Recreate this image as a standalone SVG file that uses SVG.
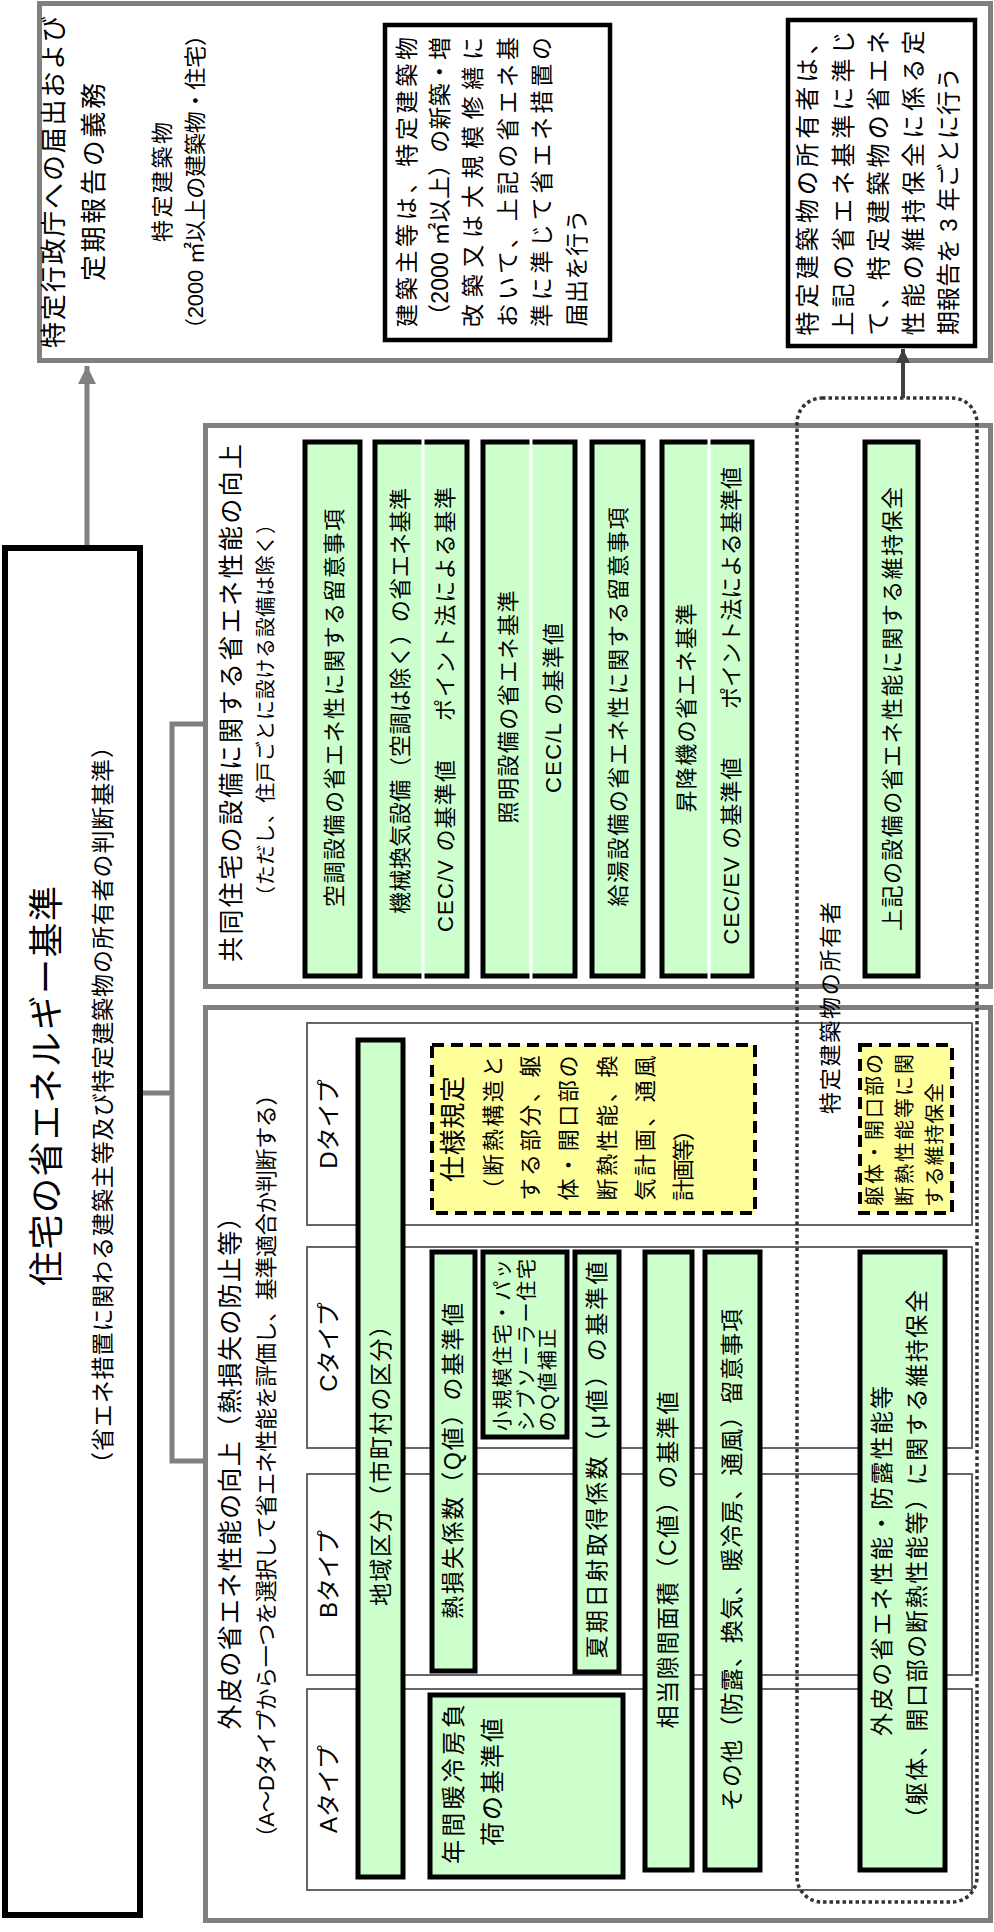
<svg xmlns="http://www.w3.org/2000/svg" width="994" height="1932" viewBox="0 0 994 1932">
<style>
.t{font-family:"Liberation Sans","Noto Sans CJK JP",sans-serif;fill:#000;text-anchor:middle;dominant-baseline:central}
.sec{fill:#fff;stroke:#808080;stroke-width:5}
.box{fill:#fff;stroke:#000;stroke-width:4.5}
.g{fill:#ccffcc;stroke:#000;stroke-width:5}
.y{fill:#ffff99;stroke:#000;stroke-width:4;stroke-dasharray:12 7}
.typ{fill:#fff;stroke:#555;stroke-width:1.8}
.div{stroke:#fff;stroke-width:3}
.con{fill:none;stroke:#808080;stroke-width:5}
</style>
<defs>
<marker id="ag" viewBox="0 0 10 10" refX="10" refY="5" markerWidth="3.6" markerHeight="3.6" orient="auto" markerUnits="strokeWidth"><path d="M0,0 L10,5 L0,10 z" fill="#808080"/></marker>
<marker id="ad" viewBox="0 0 10 10" refX="10" refY="5" markerWidth="3.6" markerHeight="3.6" orient="auto" markerUnits="strokeWidth"><path d="M0,0 L10,5 L0,10 z" fill="#404040"/></marker>
</defs>

<g id="notify">
<rect class="sec" x="39.5" y="3.5" width="951" height="357"/>
<text class="t" font-size="26" textLength="332" transform="translate(54,182) rotate(-90)">特定行政庁への届出および</text>
<text class="t" font-size="26" textLength="198" transform="translate(94,182) rotate(-90)">定期報告の義務</text>
<text class="t" font-size="22" textLength="120" transform="translate(162,182) rotate(-90)">特定建築物</text>
<text class="t" font-size="22" textLength="316" transform="translate(195,182) rotate(-90)">（2000 ㎡以上の建築物・住宅）</text>
</g>

<g id="builder-box">
<rect class="box" x="385" y="25" width="225" height="315"/>
<text class="t" font-size="23" textLength="290" transform="translate(407,182) rotate(-90)">建築主等は、特定建築物</text>
<text class="t" font-size="23" textLength="290" transform="translate(440,182) rotate(-90)">（2000 ㎡以上）の新築・増</text>
<text class="t" font-size="23" textLength="290" transform="translate(473,182) rotate(-90)">改築又は大規模修繕に</text>
<text class="t" font-size="23" textLength="290" transform="translate(508,182) rotate(-90)">おいて、上記の省エネ基</text>
<text class="t" font-size="23" textLength="290" transform="translate(542,182) rotate(-90)">準に準じて省エネ措置の</text>
<text class="t" font-size="23" textLength="117" transform="translate(577,268) rotate(-90)">届出を行う</text>
</g>

<g id="owner-box">
<rect class="box" x="788" y="20" width="187" height="326"/>
<text class="t" font-size="24" textLength="305" transform="translate(807,183) rotate(-90)">特定建築物の所有者は、</text>
<text class="t" font-size="24" textLength="305" transform="translate(843,183) rotate(-90)">上記の省エネ基準に準じ</text>
<text class="t" font-size="24" textLength="305" transform="translate(878,183) rotate(-90)">て、特定建築物の省エネ</text>
<text class="t" font-size="24" textLength="305" transform="translate(913,183) rotate(-90)">性能の維持保全に係る定</text>
<text class="t" font-size="24" textLength="268" transform="translate(948,201) rotate(-90)">期報告を 3 年ごとに行う</text>
</g>

<g id="main">
<rect x="5" y="548" width="135" height="1367" fill="#fff" stroke="#000" stroke-width="6"/>
<text class="t" font-size="35" textLength="400" transform="translate(46,1086) rotate(-90)">住宅の省エネルギー基準</text>
<text class="t" font-size="23" textLength="740" transform="translate(103,1105) rotate(-90)">（省エネ措置に関わる建築主等及び特定建築物の所有者の判断基準）</text>
</g>

<g id="equipment">
<rect class="sec" x="205.5" y="425.5" width="785" height="561"/>
<text class="t" font-size="25" textLength="518" transform="translate(231,703) rotate(-90)">共同住宅の設備に関する省エネ性能の向上</text>
<text class="t" font-size="20" textLength="392" transform="translate(266,710) rotate(-90)">（ただし、住戸ごとに設ける設備は除く）</text>
<rect class="g" x="305" y="442" width="55" height="534"/>
<text class="t" font-size="22" textLength="398" transform="translate(334,708) rotate(-90)">空調設備の省エネ性に関する留意事項</text>
<rect class="g" x="375" y="442" width="92" height="534"/>
<line class="div" x1="423" y1="438" x2="423" y2="980"/>
<text class="t" font-size="22" textLength="426" transform="translate(400,701) rotate(-90)">機械換気設備（空調は除く）の省エネ基準</text>
<text class="t" font-size="22" textLength="172" transform="translate(445,846) rotate(-90)">CEC/V の基準値</text>
<text class="t" font-size="22" textLength="234" transform="translate(445,604) rotate(-90)">ポイント法による基準</text>
<rect class="g" x="483" y="442" width="92" height="534"/>
<line class="div" x1="531" y1="438" x2="531" y2="980"/>
<text class="t" font-size="22" textLength="233" transform="translate(508,707) rotate(-90)">照明設備の省エネ基準</text>
<text class="t" font-size="22" textLength="170" transform="translate(553,708) rotate(-90)">CEC/L の基準値</text>
<rect class="g" x="592" y="442" width="51" height="534"/>
<text class="t" font-size="22" textLength="399" transform="translate(618,707) rotate(-90)">給湯設備の省エネ性に関する留意事項</text>
<rect class="g" x="662" y="442" width="90" height="534"/>
<line class="div" x1="709" y1="438" x2="709" y2="980"/>
<text class="t" font-size="22" textLength="209" transform="translate(686,708) rotate(-90)">昇降機の省エネ基準</text>
<text class="t" font-size="22" textLength="187" transform="translate(731,851) rotate(-90)">CEC/EV の基準値</text>
<text class="t" font-size="22" textLength="242" transform="translate(731,588) rotate(-90)">ポイント法による基準値</text>
<rect class="g" x="865" y="442" width="53" height="534"/>
<text class="t" font-size="22" textLength="444" transform="translate(892,709) rotate(-90)">上記の設備の省エネ性能に関する維持保全</text>
</g>

<g id="envelope">
<rect class="sec" x="205.5" y="1007.5" width="785" height="913"/>
<text class="t" font-size="25" textLength="525" transform="translate(230,1467) rotate(-90)">外皮の省エネ性能の向上（熱損失の防止等）</text>
<text class="t" font-size="22" textLength="765" transform="translate(266,1466) rotate(-90)">（A～Dタイプから一つを選択して省エネ性能を評価し、基準適合か判断する）</text>
<rect class="typ" x="307" y="1023" width="665" height="202"/>
<rect class="typ" x="307" y="1247" width="665" height="201"/>
<rect class="typ" x="307" y="1474" width="665" height="201"/>
<rect class="typ" x="307" y="1689" width="665" height="201"/>
<text class="t" font-size="24" transform="translate(328,1124) rotate(-90)">Dタイプ</text>
<text class="t" font-size="24" transform="translate(328,1347) rotate(-90)">Cタイプ</text>
<text class="t" font-size="24" transform="translate(328,1574) rotate(-90)">Bタイプ</text>
<text class="t" font-size="24" transform="translate(328,1789) rotate(-90)">Aタイプ</text>
</g>

<g id="region">
<rect class="g" x="358" y="1040" width="45" height="837"/>
<text class="t" font-size="23" textLength="292" transform="translate(381,1460) rotate(-90)">地域区分（市町村の区分）</text>
</g>

<g id="spec">
<rect class="y" x="432" y="1045" width="323" height="168"/>
<text class="t" font-size="26" textLength="106" transform="translate(453,1129) rotate(-90)">仕様規定</text>
<text class="t" font-size="22" textLength="145" transform="translate(493,1128) rotate(-90)">（断熱構造と</text>
<text class="t" font-size="22" textLength="145" transform="translate(530,1128) rotate(-90)">する部分、躯</text>
<text class="t" font-size="22" textLength="145" transform="translate(568,1128) rotate(-90)">体・開口部の</text>
<text class="t" font-size="22" textLength="145" transform="translate(607,1128) rotate(-90)">断熱性能、換</text>
<text class="t" font-size="22" textLength="145" transform="translate(645,1128) rotate(-90)">気計画、通風</text>
<text class="t" font-size="22" textLength="82" transform="translate(683,1160) rotate(-90)">計画等）</text>
</g>

<g id="spec-maint">
<rect class="y" x="860" y="1045" width="92" height="168"/>
<text class="t" font-size="20" textLength="152" transform="translate(875,1130) rotate(-90)">躯体・開口部の</text>
<text class="t" font-size="20" textLength="152" transform="translate(905,1130) rotate(-90)">断熱性能等に関</text>
<text class="t" font-size="20" textLength="124" transform="translate(935,1145) rotate(-90)">する維持保全</text>
</g>

<g id="qvalue">
<rect class="g" x="432" y="1252" width="43" height="419"/>
<text class="t" font-size="23" textLength="316" transform="translate(453,1461) rotate(-90)">熱損失係数（Q値）の基準値</text>
</g>

<g id="small-house">
<rect class="g" x="483" y="1252" width="84" height="185"/>
<text class="t" font-size="20" textLength="172" transform="translate(503,1345) rotate(-90)">小規模住宅・パッ</text>
<text class="t" font-size="20" textLength="172" transform="translate(527,1345) rotate(-90)">シブソーラー住宅</text>
<text class="t" font-size="20" textLength="103" transform="translate(548,1380) rotate(-90)">のQ値補正</text>
</g>

<g id="muvalue">
<rect class="g" x="575" y="1252" width="44" height="420"/>
<text class="t" font-size="23" textLength="397" transform="translate(597,1460) rotate(-90)">夏期日射取得係数（μ値）の基準値</text>
</g>

<g id="cvalue">
<rect class="g" x="645" y="1252" width="47" height="618"/>
<text class="t" font-size="23" textLength="337" transform="translate(668,1560) rotate(-90)">相当隙間面積（C値）の基準値</text>
</g>

<g id="other">
<rect class="g" x="705" y="1252" width="55" height="618"/>
<text class="t" font-size="23" textLength="502" transform="translate(732,1560) rotate(-90)">その他（防露、換気、暖冷房、通風）留意事項</text>
</g>

<g id="annual-load">
<rect class="g" x="430" y="1695" width="193" height="182"/>
<text class="t" font-size="24" textLength="160" transform="translate(453,1784) rotate(-90)">年間暖冷房負</text>
<text class="t" font-size="24" textLength="128" transform="translate(492,1782) rotate(-90)">荷の基準値</text>
</g>

<g id="envelope-maint">
<rect class="g" x="860" y="1252" width="85" height="618"/>
<text class="t" font-size="23" textLength="350" transform="translate(882,1561) rotate(-90)">外皮の省エネ性能・防露性能等</text>
<text class="t" font-size="23" textLength="540" transform="translate(917,1560) rotate(-90)">（躯体、開口部の断熱性能等）に関する維持保全</text>
</g>

<g id="owner-scope">
<rect x="797" y="398" width="180" height="1504" rx="25" ry="25" fill="none" stroke="#333" stroke-width="3.5" stroke-dasharray="3.5 3"/>
<text class="t" font-size="22" textLength="212" transform="translate(830,1008) rotate(-90)">特定建築物の所有者</text>
</g>

<g id="connectors">
<path class="con" d="M143,1093 H172"/>
<path class="con" d="M205,724 H172 V1461 H205"/>
<line x1="87" y1="545" x2="87" y2="366" stroke="#808080" stroke-width="5" marker-end="url(#ag)"/>
<line x1="903" y1="398" x2="903" y2="349" stroke="#404040" stroke-width="4" marker-end="url(#ad)"/>
</g>
</svg>
